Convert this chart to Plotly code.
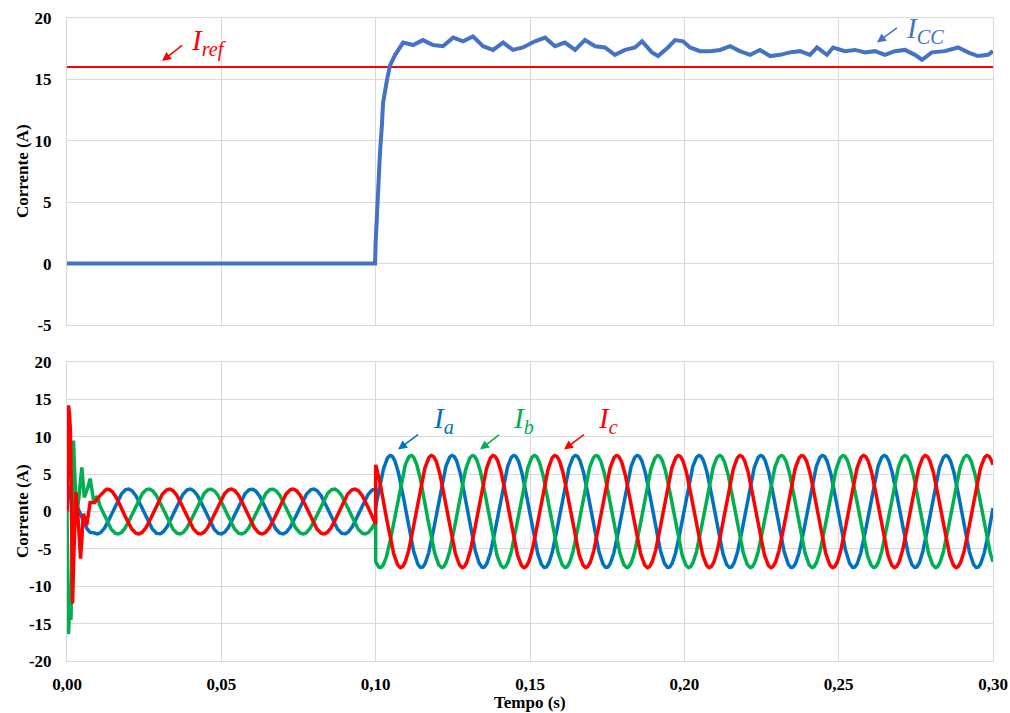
import numpy as np
import plotly.graph_objects as go

# ---------------- data ----------------
# Top panel: DC current I_CC and reference I_ref
t_cc = [0.0, 0.0998, 0.1000, 0.1004, 0.1008, 0.1014, 0.1020, 0.1024, 0.1037, 0.1046,
        0.1063, 0.1089, 0.1121, 0.1153, 0.1186, 0.1218, 0.1251, 0.1283, 0.1315, 0.1348,
        0.1380, 0.1413, 0.1445, 0.1477, 0.1516, 0.1549, 0.1581, 0.1613, 0.1646, 0.1678,
        0.1711, 0.1743, 0.1775, 0.1808, 0.1840, 0.1863, 0.1895, 0.1915, 0.1947, 0.1970,
        0.1996, 0.2018, 0.2051, 0.2083, 0.2116, 0.2148, 0.2180, 0.2213, 0.2245, 0.2278,
        0.2310, 0.2342, 0.2375, 0.2407, 0.2430, 0.2462, 0.2482, 0.2520, 0.2553, 0.2585,
        0.2618, 0.2650, 0.2682, 0.2715, 0.2747, 0.2770, 0.2802, 0.2844, 0.2887, 0.2919,
        0.2951, 0.2984, 0.3000]
i_cc = [0.0, 0.0, 1.8, 4.4, 6.6, 9.0, 11.2, 13.1, 15.0, 16.1,
        17.0, 18.0, 17.8, 18.2, 17.8, 17.7, 18.4, 18.1, 18.5, 17.7,
        17.4, 18.0, 17.4, 17.6, 18.1, 18.4, 17.7, 18.0, 17.4, 18.2,
        17.7, 17.6, 17.0, 17.4, 17.6, 18.1, 17.2, 16.9, 17.6, 18.2,
        18.1, 17.6, 17.3, 17.3, 17.4, 17.7, 17.3, 17.0, 17.4, 16.9,
        17.0, 17.2, 17.3, 17.0, 17.6, 17.0, 17.6, 17.3, 17.4, 17.2,
        17.3, 17.0, 17.3, 17.4, 17.0, 16.6, 17.2, 17.3, 17.6, 17.2,
        16.9, 17.0, 17.3]
t_ref = [0.0, 0.3]
i_ref = [16.0, 16.0]

# Bottom panel: start-up transients (explicit readings)
t_tr_a = [0.0, 0.0004, 0.0008, 0.0015, 0.0025, 0.0035, 0.0045, 0.0055, 0.0065, 0.0075]
i_tr_a = [0.0, 2.5, 3.5, 2.8, 1.5, 0.5, -0.5, -1.5, -2.3, -2.8]
t_tr_b = [0.0, 0.0003, 0.0005, 0.0009, 0.0013, 0.0017, 0.0021, 0.0026, 0.0031, 0.0040,
          0.0048, 0.0056, 0.0066, 0.0075, 0.0086, 0.0095, 0.0102]
i_tr_b = [0.0, -9.0, -16.4, -12.0, -14.5, -3.0, 9.5, 4.0, -0.8, 2.5,
          5.9, 1.9, 3.0, 4.4, 1.5, 1.9, 1.6]
t_tr_c = [0.0, 0.0003, 0.0005, 0.0008, 0.0011, 0.0014, 0.0018, 0.0022, 0.0029, 0.0036,
          0.0044, 0.0053, 0.0064, 0.0075, 0.0090, 0.0102]
i_tr_c = [0.0, 8.0, 14.2, 13.0, 10.9, 2.0, -12.3, -6.0, 2.6, -1.0,
          -6.3, -0.3, -1.8, 1.2, 1.2, 1.9]

# Steady-state sinusoid parameters
freq_hz = 50.0
seg_start = [0.0, 0.1]            # segment start times (s)
seg_end = [0.1, 0.3]
amp_seg = [3.0, 7.5]              # peak amplitude (A) in each segment
peak_a_seg = [0.0198, 0.1048]     # time of a phase-a peak in each segment (s)
phase_lag = [0.0, 1.0 / 3.0, 2.0 / 3.0]   # a, b, c lag in periods
sine_start = [0.0085, 0.0105, 0.0105]     # where the transient ends per phase

x_ticks = [0.0, 0.05, 0.10, 0.15, 0.20, 0.25, 0.30]
x_tick_text = ["0,00", "0,05", "0,10", "0,15", "0,20", "0,25", "0,30"]
y_ticks_top = [-5, 0, 5, 10, 15, 20]
y_ticks_bot = [-20, -15, -10, -5, 0, 5, 10, 15, 20]


def phase_wave(k, t_tr, i_tr):
    T = 1.0 / freq_hz
    ts, vs = list(t_tr), list(i_tr)
    for s in range(len(seg_start)):
        a = max(seg_start[s], sine_start[k])
        tt = np.arange(a, seg_end[s] + 1e-9, 0.0001)
        vv = amp_seg[s] * np.cos(2 * np.pi * freq_hz * (tt - peak_a_seg[s] - phase_lag[k] * T))
        ts += tt.tolist()
        vs += vv.tolist()
    return ts, vs


ta, ia = phase_wave(0, t_tr_a, i_tr_a)
tb, ib = phase_wave(1, t_tr_b, i_tr_b)
tc, ic = phase_wave(2, t_tr_c, i_tr_c)

# ---------------- figure ----------------
C_CC = "#4472C4"
C_RED = "#FF0000"
C_A = "#0070C0"
C_B = "#00B050"
GRID = "#D9D9D9"
FONT = "Liberation Serif"

fig = go.Figure()
fig.add_trace(go.Scatter(x=t_ref, y=i_ref, mode="lines", line=dict(color=C_RED, width=2),
                         xaxis="x2", yaxis="y2", showlegend=False))
fig.add_trace(go.Scatter(x=t_cc, y=i_cc, mode="lines", line=dict(color=C_CC, width=4),
                         xaxis="x2", yaxis="y2", showlegend=False))
fig.add_trace(go.Scatter(x=ta, y=ia, mode="lines", line=dict(color=C_A, width=3.5),
                         xaxis="x", yaxis="y", showlegend=False))
fig.add_trace(go.Scatter(x=tb, y=ib, mode="lines", line=dict(color=C_B, width=3.5),
                         xaxis="x", yaxis="y", showlegend=False))
fig.add_trace(go.Scatter(x=tc, y=ic, mode="lines", line=dict(color=C_RED, width=3.5),
                         xaxis="x", yaxis="y", showlegend=False))

tickfont = dict(family=FONT, size=17, color="#000000", weight=700)
titlefont = dict(family=FONT, size=17, color="#000000", weight=700)
axcommon = dict(showgrid=True, gridcolor=GRID, gridwidth=1, zeroline=False,
                showline=True, linecolor=GRID, linewidth=1, mirror=True, ticks="",
                automargin=False)

fig.update_layout(
    width=1010, height=713,
    margin=dict(l=67, r=17, t=18, b=52),
    paper_bgcolor="white", plot_bgcolor="white",
    xaxis=dict(domain=[0, 1], anchor="y", range=[0, 0.3], tickvals=x_ticks,
               ticktext=x_tick_text, tickfont=tickfont, ticklabelstandoff=8,
               **axcommon),
    yaxis=dict(domain=[0, 0.465], anchor="x", range=[-20, 20], tickvals=y_ticks_bot,
               ticktext=[str(v) for v in y_ticks_bot],
               tickfont=tickfont, ticklabelstandoff=11,
               **axcommon),
    xaxis2=dict(domain=[0, 1], anchor="y2", range=[0, 0.3], tickvals=x_ticks,
                showticklabels=False, **axcommon),
    yaxis2=dict(domain=[0.5226, 1], anchor="x2", range=[-5, 20], tickvals=y_ticks_top,
                ticktext=[str(v) for v in y_ticks_top],
                tickfont=tickfont, ticklabelstandoff=11,
                **axcommon),
)

# axis titles placed as paper annotations
PLOT_W, PLOT_H = 926.0, 643.0
fig.add_annotation(text="Corrente (A)", xref="paper", yref="paper",
                   x=(22 - 67) / PLOT_W, y=(661 - 171) / PLOT_H, textangle=-90,
                   showarrow=False, xanchor="center", yanchor="middle", font=titlefont)
fig.add_annotation(text="Corrente (A)", xref="paper", yref="paper",
                   x=(22 - 67) / PLOT_W, y=(661 - 511) / PLOT_H, textangle=-90,
                   showarrow=False, xanchor="center", yanchor="middle", font=titlefont)
fig.add_annotation(text="Tempo (s)", xref="paper", yref="paper",
                   x=0.5, y=(661 - 702) / PLOT_H,
                   showarrow=False, xanchor="center", yanchor="middle", font=titlefont)


def label(text, color, x, y, xref, yref, size=29):
    fig.add_annotation(text=text, x=x, y=y, xref=xref, yref=yref, showarrow=False,
                       xanchor="left", yanchor="middle",
                       font=dict(family=FONT, size=size, color=color))


def arrow(color, x, y, xref, yref, ax, ay):
    fig.add_annotation(text=" ", x=x, y=y, xref=xref, yref=yref, showarrow=True,
                       ax=ax, ay=ay, arrowhead=2, arrowsize=1.2, arrowwidth=1.5,
                       arrowcolor=color, standoff=0, startstandoff=0)


# top annotations
arrow(C_RED, 0.0308, 16.5, "x2", "y2", 23, -18)
label("<i>I</i><sub><i>ref</i></sub>", C_RED, 0.0395, 18.0, "x2", "y2")
arrow(C_CC, 0.2624, 18.0, "x2", "y2", 23, -17)
label("<i>I</i><sub><i>CC</i></sub>", C_CC, 0.2712, 19.0, "x2", "y2")

# bottom annotations
arrow(C_A, (398 - 67) / 3086.7, 8.3, "x", "y", 23, -17)
label("<i>I</i><sub><i>a</i></sub>", C_A, (431 - 67) / 3086.7, 12.2, "x", "y")
arrow(C_B, (480 - 67) / 3086.7, 8.3, "x", "y", 22, -17)
label("<i>I</i><sub><i>b</i></sub>", C_B, (511 - 67) / 3086.7, 12.2, "x", "y")
arrow(C_RED, (564 - 67) / 3086.7, 8.3, "x", "y", 23, -17)
label("<i>I</i><sub><i>c</i></sub>", C_RED, (596 - 67) / 3086.7, 12.2, "x", "y")

fig.write_html("out.html")
